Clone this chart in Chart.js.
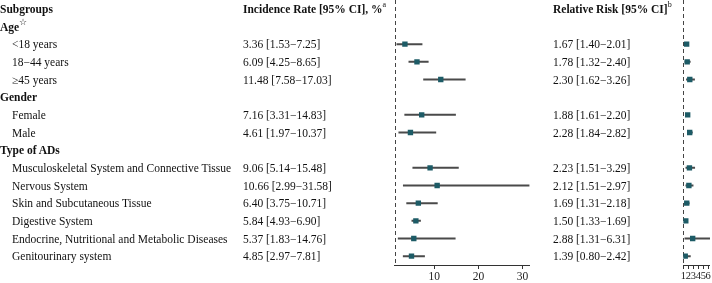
<!DOCTYPE html>
<html>
<head>
<meta charset="utf-8">
<script src="https://cdn.jsdelivr.net/npm/chart.js@4.4.1/dist/chart.umd.min.js"></script>
<style>
html, body { margin: 0; padding: 0; background: #fff; }
#wrap { position: relative; width: 712px; height: 283px; overflow: hidden;
        font-family: "Liberation Serif", "Times New Roman", serif; font-size: 11.5px; color: #111; }
#wrap canvas { position: absolute; left: 0; top: 0; }
.t { position: absolute; white-space: nowrap; line-height: 14px; height: 14px; }
.b { font-weight: bold; }
sup { font-size: 8px; line-height: 8px; vertical-align: top; position: relative; top: -1px; font-weight: normal; }
sup.star { font-size: 9px; top: -2px; }
</style>
</head>
<body>
<div id="wrap">
  <canvas id="incChart" width="712" height="283"></canvas>
  <canvas id="rrChart" width="712" height="283"></canvas>
</div>
<script>
// rows, top to bottom (first row is the header line)
const rowLabels = ['Subgroups', 'Age', '<18 years', '18\u221244 years', '\u226545 years',
    'Gender', 'Female', 'Male', 'Type of ADs',
    'Musculoskeletal System and Connective Tissue', 'Nervous System',
    'Skin and Subcutaneous Tissue', 'Digestive System',
    'Endocrine, Nutritional and Metabolic Diseases', 'Genitourinary system'];
const groupRows = [0, 1, 5, 8];

// incidence rate, %
const incRate = [null, null, 3.36, 6.09, 11.48, null, 7.16, 4.61, null, 9.06, 10.66, 6.40, 5.84, 5.37, 4.85];
const incLow  = [null, null, 1.53, 4.25, 7.58, null, 3.31, 1.97, null, 5.14, 2.99, 3.75, 4.93, 1.83, 2.97];
const incHigh = [null, null, 7.25, 8.65, 17.03, null, 14.83, 10.37, null, 15.48, 31.58, 10.71, 6.90, 14.76, 7.81];

// relative risk
const rrVal  = [null, null, 1.67, 1.78, 2.30, null, 1.88, 2.28, null, 2.23, 2.12, 1.69, 1.50, 2.88, 1.39];
const rrLow  = [null, null, 1.40, 1.32, 1.62, null, 1.61, 1.84, null, 1.51, 1.51, 1.31, 1.33, 1.31, 0.80];
const rrHigh = [null, null, 2.01, 2.40, 3.26, null, 2.20, 2.82, null, 3.29, 2.97, 2.18, 1.69, 6.31, 2.42];

const incTicks = [10, 20, 30];
const rrTicks = [1, 2, 3, 4, 5, 6];

const serif = '"Liberation Serif", "Times New Roman", serif';
Chart.defaults.font.family = serif;

// dashed reference line at x = 1
const refLine = {
    id: 'refLine',
    beforeDatasetsDraw(chart) {
        const { ctx, chartArea, scales } = chart;
        const x = Math.round(scales.x.getPixelForValue(1)) + 0.5;
        ctx.save();
        ctx.strokeStyle = '#444';
        ctx.lineWidth = 1;
        ctx.setLineDash([4, 3]);
        ctx.beginPath();
        ctx.moveTo(x, chartArea.top);
        ctx.lineTo(x, chartArea.bottom);
        ctx.stroke();
        ctx.restore();
    }
};

function forest(id, est, lo, hi, tickVals, min, max, padLeft, padRight, tickSize) {
    const ctx = document.getElementById(id).getContext('2d');
    return new Chart(ctx, {
        type: 'bar',
        plugins: [refLine],
        data: {
            labels: rowLabels,
            datasets: [{
                type: 'line',
                indexAxis: 'y',
                data: est,
                showLine: false,
                pointStyle: 'rect',
                pointRadius: 3.8,
                pointHoverRadius: 3.8,
                pointBorderWidth: 0,
                pointBackgroundColor: '#1d5b66',
                order: 0
            }, {
                type: 'bar',
                indexAxis: 'y',
                data: lo.map((l, i) => l === null ? null : [l, hi[i]]),
                backgroundColor: '#4a4a4a',
                borderWidth: 0,
                barThickness: 1.3,
                order: 1
            }]
        },
        options: {
            indexAxis: 'y',
            responsive: false,
            animation: false,
            events: [],
            layout: { autoPadding: false, padding: { left: padLeft, right: padRight, top: 0, bottom: 0 } },
            plugins: { legend: { display: false }, tooltip: { enabled: false } },
            scales: {
                x: {
                    type: 'linear',
                    min: min,
                    max: max,
                    afterBuildTicks: s => { s.ticks = tickVals.map(v => ({ value: v })); },
                    afterFit: s => { s.height = 18; },
                    grid: { display: true, drawOnChartArea: false, drawTicks: true, tickLength: 4, color: '#333', lineWidth: 1 },
                    border: { display: true, color: '#333', width: 1 },
                    ticks: { font: { family: serif, size: tickSize }, color: '#222', padding: 1, autoSkip: false, maxRotation: 0 }
                },
                y: {
                    type: 'category',
                    offset: true,
                    afterFit: s => { s.width = 0; },
                    ticks: { display: false },
                    grid: { display: false },
                    border: { display: false }
                }
            }
        }
    });
}

const incChart = forest('incChart', incRate, incLow, incHigh, incTicks, 1, 31.58, 394.5, 182.5, 11.5);
const rrChart = forest('rrChart', rrVal, rrLow, rrHigh, rrTicks, 1, 6.35, 683.3, 2, 10.5);

// text columns, placed on the rows of the chart's y scale
const wrap = document.getElementById('wrap');
function addText(html, x, y, bold) {
    const d = document.createElement('div');
    d.className = 't' + (bold ? ' b' : '');
    d.style.left = x + 'px';
    d.style.top = (y - 7) + 'px';
    d.innerHTML = html;
    wrap.appendChild(d);
}
function esc(s) { return s.replace(/&/g, '&amp;').replace(/</g, '&lt;'); }
function ci(v, l, h) { return v.toFixed(2) + ' [' + l.toFixed(2) + '\u2212' + h.toFixed(2) + ']'; }

const yScale = incChart.scales.y;
rowLabels.forEach((lab, i) => {
    const y = yScale.getPixelForValue(i);
    const isGroup = groupRows.includes(i);
    let html = esc(lab);
    if (lab === 'Age') html += '<sup class="star">\u2606</sup>';
    addText(html, isGroup ? 0 : 12, y, isGroup);
    if (incRate[i] !== null) {
        addText(ci(incRate[i], incLow[i], incHigh[i]), 243, y, false);
        addText(ci(rrVal[i], rrLow[i], rrHigh[i]), 553, y, false);
    }
});
const y0 = yScale.getPixelForValue(0);
addText('Incidence Rate [95% CI], %<sup>a</sup>', 243, y0, true);
addText('Relative Risk [95% CI]<sup>b</sup>', 553, y0, true);
</script>
</body>
</html>
